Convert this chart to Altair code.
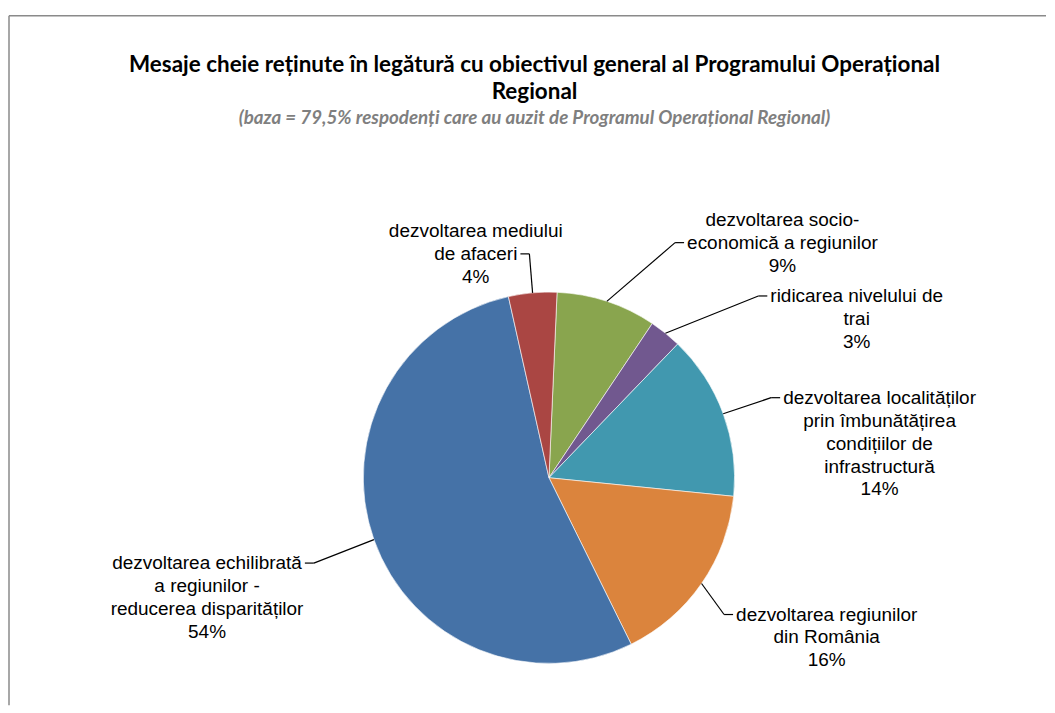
import math
import altair as alt
import pandas as pd

# ---------------- data ----------------
categories = [
    "dezvoltarea socio-economică a regiunilor",
    "ridicarea nivelului de trai",
    "dezvoltarea localităților prin îmbunătățirea condițiilor de infrastructură",
    "dezvoltarea regiunilor din România",
    "dezvoltarea echilibrată a regiunilor - reducerea disparităților",
    "dezvoltarea mediului de afaceri",
]
values = [8.7, 2.8, 14.4, 16.1, 53.8, 4.2]
shown_pct = [9, 3, 14, 16, 54, 4]
label_lines = [
    ["dezvoltarea socio-", "economică a regiunilor"],
    ["ridicarea nivelului de", "trai"],
    ["dezvoltarea localităților", "prin îmbunătățirea", "condițiilor de", "infrastructură"],
    ["dezvoltarea regiunilor", "din România"],
    ["dezvoltarea echilibrată", "a regiunilor -", "reducerea disparităților"],
    ["dezvoltarea mediului", "de afaceri"],
]
colors = ["#89A54E", "#71588F", "#4198AF", "#DB843D", "#4572A7", "#AA4643"]

title_lines = [
    "Mesaje cheie reținute în legătură cu obiectivul general al Programului Operațional",
    "Regional",
]
subtitle = "(baza = 79,5% respodenți care au auzit de Programul  Operațional Regional)"

# ---------------- layout ----------------
W, H = 1039, 691
CX, CY, R = 541, 463, 186
START_DEG = 2.5
FS, LH = 19, 23
# label placement (direction in degrees clockwise from 12 o'clock, distance from centre)
label_angle = [44.8, 62.7, 84.1, 119.9, 250.7, 341.9]
label_dist = [332, 347, 333, 321, 363, 236]
attach_line = [1, 0, 0, 0, 0, 1]

AW = {c: 556 for c in "abdeghnopquăâ0123456789"}
AW.update({"c": 500, "k": 500, "s": 500, "v": 500, "x": 500, "y": 500, "z": 500, "ș": 500,
           "f": 278, "t": 278, "ț": 278, "î": 278, "i": 222, "j": 222, "l": 222,
           "r": 333, "m": 833, "w": 722, " ": 278, "-": 333, "%": 889, "R": 722})


def text_w(s, size):
    return sum(AW.get(ch, 556) for ch in s) * size / 1000.0


pie_rows, lab_rows, seg_rows = [], [], []
cum = 0.0
for i, (cat, v) in enumerate(zip(categories, values)):
    a0 = START_DEG + cum * 3.6
    a1 = a0 + v * 3.6
    cum += v
    mid = math.radians((a0 + a1) / 2)
    pie_rows.append({"category": cat, "value": v, "idx": i})
    lines = label_lines[i] + [f"{shown_pct[i]}%"]
    n = len(lines)
    la = math.radians(label_angle[i])
    lx = CX + label_dist[i] * math.sin(la)
    ly = CY - label_dist[i] * math.cos(la)
    first_y = ly - (n - 1) / 2 * LH
    lab_rows.append({"category": cat, "text": "\n".join(lines), "lx": lx, "ly": first_y})
    ex = CX + R * math.sin(mid)
    ey = CY - R * math.cos(mid)
    k = attach_line[i]
    yk = first_y + k * LH
    wk = text_w(lines[k], FS)
    if lx > ex:
        tx = lx - wk / 2 - 3
        bx = tx - 9
    else:
        tx = lx + wk / 2 + 3
        bx = tx + 9
    seg_rows.append({"x": ex, "y": ey, "x2": bx, "y2": yk})
    seg_rows.append({"x": bx, "y": yk, "x2": tx, "y2": yk})

pie_df = pd.DataFrame(pie_rows)
lab_df = pd.DataFrame(lab_rows)
seg_df = pd.DataFrame(seg_rows)

start = math.radians(START_DEG)
pie = alt.Chart(pie_df).mark_arc(radius=R, stroke="white", strokeWidth=0.6).encode(
    theta=alt.Theta("value:Q", stack=True,
                    scale=alt.Scale(domain=[0, 100], range=[start, start + 2 * math.pi])),
    color=alt.Color("category:N", scale=alt.Scale(domain=categories, range=colors), legend=None),
    order=alt.Order("idx:Q"),
    x=alt.value(CX),
    y=alt.value(CY),
)

leaders = alt.Chart(seg_df).mark_rule(color="black", strokeWidth=1.2).encode(
    x=alt.X("x:Q", scale=None), y=alt.Y("y:Q", scale=None),
    x2="x2:Q", y2="y2:Q",
)

labels = alt.Chart(lab_df).mark_text(
    font="Liberation Sans", fontSize=FS, lineHeight=LH, lineBreak="\n",
    align="center", baseline="middle", color="black",
).encode(
    x=alt.X("lx:Q", scale=None), y=alt.Y("ly:Q", scale=None), text="text:N",
)

frame_df = pd.DataFrame({"k": [0]})
frame_top = alt.Chart(frame_df).mark_rule(color="#8a8a8a", strokeWidth=1.5).encode(
    x=alt.value(0), x2=alt.value(W), y=alt.value(0))
frame_left = alt.Chart(frame_df).mark_rule(color="#8a8a8a", strokeWidth=1.5).encode(
    x=alt.value(0), y=alt.value(0), y2=alt.value(H))

chart = alt.layer(frame_top, frame_left, pie, leaders, labels).properties(
    width=W, height=H, background="white",
    padding={"left": 0, "top": 6, "right": 0, "bottom": 0},
    title=alt.TitleParams(
        text=title_lines, subtitle=[subtitle], anchor="middle", frame="group",
        offset=-113, dx=7,
        font="Lato, sans-serif", fontSize=22.5,
        fontWeight="bold", lineHeight=27, color="black",
        subtitleFont="Lato, sans-serif",
        subtitleFontSize=18.8, subtitleFontStyle="italic", subtitleFontWeight="bold",
        subtitleColor="#7f7f7f", subtitlePadding=5,
    ),
).configure_view(stroke="transparent", strokeWidth=0)

chart.save("out.html", embed_options={"renderer": "svg", "actions": False})
